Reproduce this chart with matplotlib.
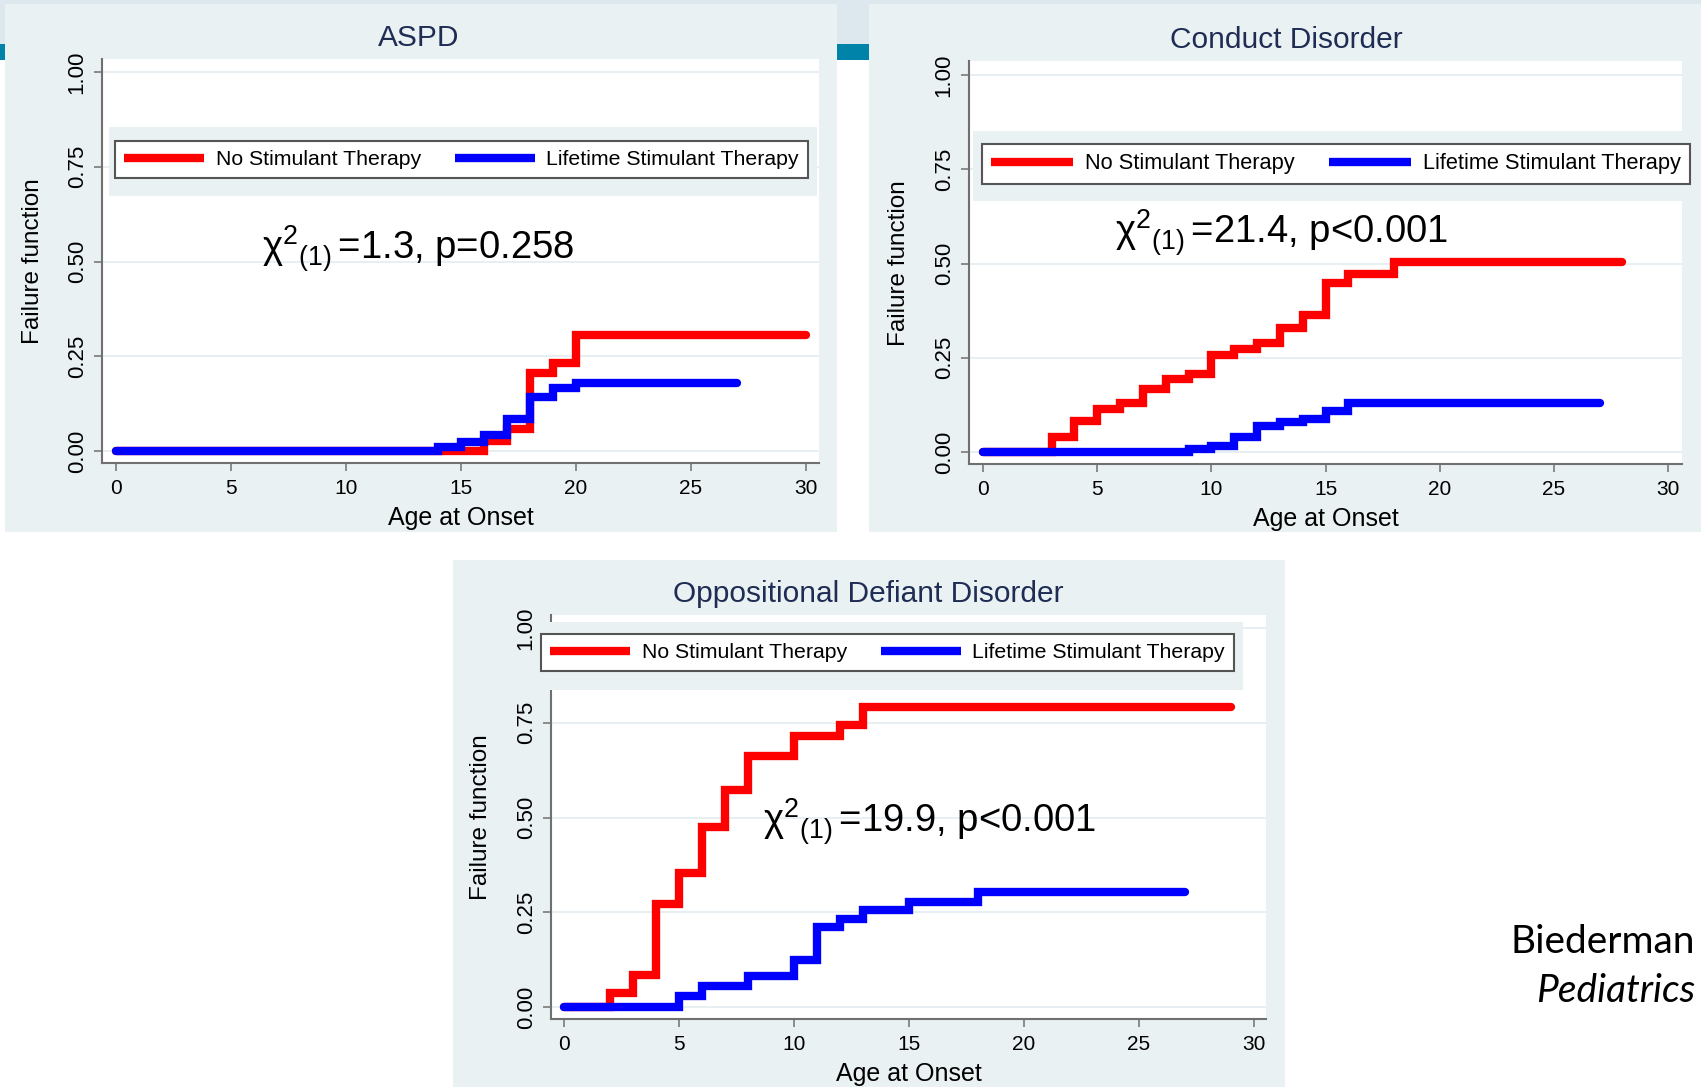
import matplotlib
matplotlib.use("Agg")
import matplotlib.pyplot as plt
from matplotlib.patches import Rectangle
from matplotlib.lines import Line2D
from matplotlib import font_manager

# --- data ---
aspd_no_t = [0, 16, 17, 18, 19, 20, 30]
aspd_no_f = [0, 0.026, 0.059, 0.206, 0.233, 0.305, 0.305]
aspd_life_t = [0, 14, 15, 16, 17, 18, 19, 20, 27]
aspd_life_f = [0, 0.011, 0.024, 0.043, 0.085, 0.143, 0.166, 0.18, 0.18]

cd_no_t = [0, 3, 4, 5, 6, 7, 8, 9, 10, 11, 12, 13, 14, 15, 16, 18, 28]
cd_no_f = [0, 0.04, 0.082, 0.113, 0.129, 0.167, 0.194, 0.206, 0.257, 0.273,
           0.289, 0.33, 0.364, 0.448, 0.471, 0.505, 0.505]
cd_life_t = [0, 9, 10, 11, 12, 13, 14, 15, 16, 27]
cd_life_f = [0, 0.009, 0.015, 0.041, 0.07, 0.079, 0.088, 0.109, 0.131, 0.131]

odd_no_t = [0, 2, 3, 4, 5, 6, 7, 8, 10, 12, 13, 29]
odd_no_f = [0, 0.036, 0.085, 0.273, 0.354, 0.474, 0.573, 0.661, 0.716, 0.743,
            0.792, 0.792]
odd_life_t = [0, 5, 6, 8, 10, 11, 12, 13, 15, 18, 27]
odd_life_f = [0, 0.029, 0.056, 0.081, 0.125, 0.21, 0.231, 0.255, 0.276, 0.303,
              0.303]

titles = ["ASPD", "Conduct Disorder", "Oppositional Defiant Disorder"]
stats = [r"$\mathrm{\chi^{2}{}_{(1)}}\,$=1.3, p=0.258",
         r"$\mathrm{\chi^{2}{}_{(1)}}\,$=21.4, p<0.001",
         r"$\mathrm{\chi^{2}{}_{(1)}}\,$=19.9, p<0.001"]
legend_labels = ["No Stimulant Therapy", "Lifetime Stimulant Therapy"]
x_ticks = [0, 5, 10, 15, 20, 25, 30]
y_ticks = [0, 0.25, 0.5, 0.75, 1.0]

W, H = 1701, 1087

names = {f.name for f in font_manager.fontManager.ttflist}


def pick(*cands):
    for c in cands:
        if c in names:
            return c
    return "DejaVu Sans"


SANS = pick("Liberation Sans", "DejaVu Sans")
SLIDE = pick("Lato", "Open Sans", "DejaVu Sans")

plt.rcParams["mathtext.fontset"] = "custom"
plt.rcParams["mathtext.rm"] = SANS
plt.rcParams["mathtext.it"] = SANS

BG = "#eaf1f3"
RED = "#ff0000"
BLUE = "#0000ff"
AXC = "#707070"


def fx(x):
    return x / W


def fy(y):
    return 1 - y / H


fig = plt.figure(figsize=(W / 100, H / 100), dpi=100)
fig.patch.set_facecolor("white")

# slide header
fig.patches.append(Rectangle((0, fy(44)), 1, 44 / H, transform=fig.transFigure,
                             facecolor="#dce8ed", edgecolor="none", zorder=-5))
fig.patches.append(Rectangle((0, fy(60)), 1, 16 / H, transform=fig.transFigure,
                             facecolor="#0083a9", edgecolor="none", zorder=-5))

# panel geometry in pixels: bg box, plot region, data anchors, legend box, band
panels = [
    dict(bg=(5, 4, 837, 532), reg=(102, 59, 819, 463), x0=116, x30=806, y0=451, y1=72,
         leg=(461.5, 159.5), band=(109, 127, 817, 196), title=(419, 38),
         stat=(6.35, 0.504), ylab=(33, 261), xlab=(461, 518), lsize=15.3),
    dict(bg=(869, 4, 1701, 532), reg=(969, 61, 1682, 464), x0=983, x30=1668, y0=452, y1=75,
         leg=(1336, 164), band=(973, 131, 1700, 201), title=(1286, 40),
         stat=(5.76, 0.552), ylab=(899, 263), xlab=(1326, 519), lsize=15.7),
    dict(bg=(453, 560, 1285, 1087), reg=(551, 615, 1266, 1019), x0=564, x30=1254, y0=1007, y1=628,
         leg=(887.5, 652.5), band=(537, 622, 1243, 690), title=(868, 594),
         stat=(8.67, 0.461), ylab=(481, 817), xlab=(909, 1074), lsize=15.3),
]

curves = [
    ((aspd_no_t, aspd_no_f), (aspd_life_t, aspd_life_f)),
    ((cd_no_t, cd_no_f), (cd_life_t, cd_life_f)),
    ((odd_no_t, odd_no_f), (odd_life_t, odd_life_f)),
]

for p, (red, blue), title, stat in zip(panels, curves, titles, stats):
    bx0, by0, bx1, by1 = p["bg"]
    fig.patches.append(Rectangle((fx(bx0), fy(by1)), (bx1 - bx0) / W, (by1 - by0) / H,
                                 transform=fig.transFigure, facecolor=BG,
                                 edgecolor="none", zorder=-4))
    L, T, R, B = p["reg"]
    ax = fig.add_axes([fx(L), fy(B), (R - L) / W, (B - T) / H])
    ax.set_facecolor("white")
    sx = (p["x30"] - p["x0"]) / 30.0
    sy = float(p["y0"] - p["y1"])
    ax.set_xlim((L - p["x0"]) / sx, (R - p["x0"]) / sx)
    ax.set_ylim((p["y0"] - B) / sy, (p["y0"] - T) / sy)

    ax.step(red[0], red[1], where="post", color=RED, lw=6,
            solid_capstyle="round", solid_joinstyle="miter", zorder=3)
    ax.step(blue[0], blue[1], where="post", color=BLUE, lw=6,
            solid_capstyle="round", solid_joinstyle="miter", zorder=4)

    ax.set_xticks(x_ticks)
    ax.set_yticks(y_ticks)
    ax.set_yticklabels(["%.2f" % v for v in y_ticks], family=SANS, fontsize=16,
                       rotation=90, va="center")
    ax.set_xticklabels([str(v) for v in x_ticks], family=SANS, fontsize=15)
    ax.tick_params(axis="y", length=5.8, width=1.1, color=AXC, pad=4.5)
    ax.tick_params(axis="x", length=5.8, width=1.1, color=AXC, pad=6)
    ax.grid(axis="y", color="#e6eef1", lw=1.3)
    ax.set_axisbelow(True)
    for s in ["top", "right"]:
        ax.spines[s].set_visible(False)
    for s in ["left", "bottom"]:
        ax.spines[s].set_color(AXC)
        ax.spines[s].set_linewidth(1.5)

    ax.set_xlabel("Age at Onset", family=SANS, fontsize=18)
    ax.xaxis.set_label_coords((p["xlab"][0] - L) / (R - L), (B - p["xlab"][1]) / (B - T))
    ax.xaxis.label.set_va("center")
    ax.set_ylabel("Failure function", family=SANS, fontsize=17.5)
    ax.yaxis.set_label_coords((p["ylab"][0] - L) / (R - L), (B - p["ylab"][1]) / (B - T))
    ax.yaxis.label.set_va("center")

    ax.text(p["stat"][0], p["stat"][1], stat, family=SANS, fontsize=27.5,
            ha="left", va="baseline", zorder=6)

    fig.text(fx(p["title"][0]), fy(p["title"][1]), title, family=SANS, fontsize=21.5,
             color="#1f2d55", ha="center", va="center")

    # legend region band, then legend box on top
    gx0, gy0, gx1, gy1 = p["band"]
    fig.patches.append(Rectangle((fx(gx0), fy(gy1)), (gx1 - gx0) / W, (gy1 - gy0) / H,
                                 transform=fig.transFigure, facecolor=BG,
                                 edgecolor="none", zorder=2))
    handles = [Line2D([], [], color=RED, lw=6, solid_capstyle="butt"),
               Line2D([], [], color=BLUE, lw=6, solid_capstyle="butt")]
    leg = fig.legend(handles, legend_labels, loc="center",
                     bbox_to_anchor=(fx(p["leg"][0]), fy(p["leg"][1])),
                     ncol=2, frameon=True, fancybox=False, edgecolor="#555555",
                     facecolor="white", framealpha=1,
                     prop={"family": SANS, "size": p["lsize"]},
                     handlelength=3.75, handletextpad=0.56, columnspacing=1.6,
                     borderpad=0.42, borderaxespad=0)
    leg.get_frame().set_linewidth(1.5)
    leg.set_zorder(5)

fig.text(fx(1695), fy(953), "Biederman", family=SLIDE, fontsize=28,
         ha="right", va="baseline")
fig.text(fx(1695), fy(1002), "Pediatrics", family=SLIDE, fontsize=28,
         style="italic", ha="right", va="baseline")

fig.savefig("out.png", dpi=100)
